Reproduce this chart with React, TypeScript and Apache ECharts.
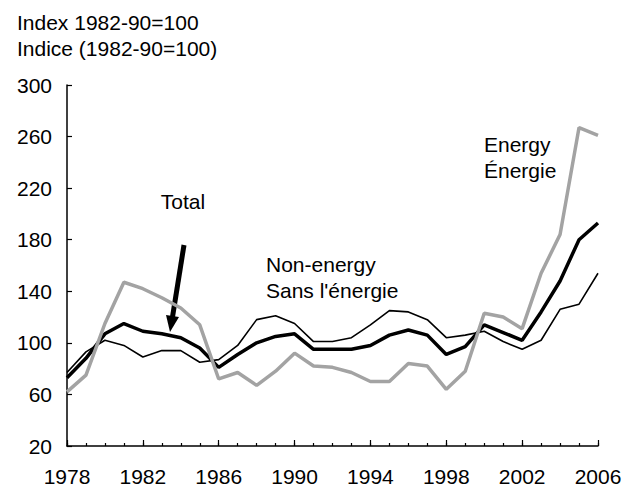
import React, { useEffect, useRef } from "react";
import * as echarts from "echarts";

const years = [
  "1978", "1979", "1980", "1981", "1982", "1983", "1984", "1985", "1986", "1987",
  "1988", "1989", "1990", "1991", "1992", "1993", "1994", "1995", "1996", "1997",
  "1998", "1999", "2000", "2001", "2002", "2003", "2004", "2005", "2006",
];
const energy = [62, 75, 115, 147, 142, 135, 127, 114, 72, 77, 67, 78, 92, 82, 81, 77, 70, 70, 84, 82, 64, 78, 123, 120, 111, 154, 184, 267, 261];
const total = [73, 88, 107, 115, 109, 107, 104, 96, 81, 91, 100, 105, 107, 95, 95, 95, 98, 106, 110, 106, 91, 97, 114, 108, 102, 124, 148, 180, 193];
const nonEnergy = [77, 93, 102, 98, 89, 94, 94, 85, 87, 98, 118, 121, 115, 101, 101, 104, 114, 125, 124, 118, 104, 106, 109, 101, 95, 102, 126, 130, 154];
const yTicks = [20, 60, 100, 140, 180, 220, 260, 300];

const FONT = "Liberation Sans, Arial, Helvetica, sans-serif";
const FS = 21;

export default function App() {
  const ref = useRef<HTMLDivElement>(null);
  useEffect(() => {
    if (!ref.current) return;
    const chart = echarts.init(ref.current, null, { renderer: "svg" });
    const txt = (text: string, x: number, y: number, align: string = "left") => ({
      type: "text",
      x,
      y,
      style: { text, fill: "#000", font: `${FS}px ${FONT}`, textAlign: align, textVerticalAlign: "middle" },
    });
    chart.setOption({
      animation: false,
      backgroundColor: "#fff",
      textStyle: { fontFamily: FONT },
      grid: { left: 67, right: 37, top: 85, bottom: 39, containLabel: false },
      xAxis: [
        {
          type: "category",
          data: years,
          boundaryGap: false,
          axisLine: { lineStyle: { color: "#000", width: 1.5 } },
          axisTick: { inside: true, length: 3, interval: 0, lineStyle: { color: "#000", width: 1.2 } },
          axisLabel: { interval: 3, color: "#000", fontSize: FS, fontFamily: FONT, margin: 20 },
          splitLine: { show: false },
        },
        {
          type: "category",
          data: years,
          boundaryGap: false,
          position: "bottom",
          axisLine: { show: false },
          axisTick: { inside: true, length: 6, interval: 3, lineStyle: { color: "#000", width: 1.2 } },
          axisLabel: { show: false },
          splitLine: { show: false },
        },
      ],
      yAxis: {
        type: "value",
        min: 20,
        max: 300,
        axisLine: { show: true, lineStyle: { color: "#000", width: 1.5 } },
        axisTick: { show: true, inside: true, length: 5, customValues: yTicks, lineStyle: { color: "#000", width: 1.2 } },
        axisLabel: { customValues: yTicks, color: "#000", fontSize: FS, fontFamily: FONT, margin: 15 },
        splitLine: { show: false },
      },
      series: [
        {
          name: "Non-energy",
          type: "line",
          data: nonEnergy,
          showSymbol: false,
          lineStyle: { color: "#000", width: 1.6 },
          z: 2,
        },
        {
          name: "Total",
          type: "line",
          data: total,
          showSymbol: false,
          lineStyle: { color: "#000", width: 3.5 },
          z: 3,
        },
        {
          name: "Energy",
          type: "line",
          data: energy,
          showSymbol: false,
          lineStyle: { color: "#a3a3a3", width: 3.5 },
          z: 4,
        },
      ],
      graphic: [
        txt("Index 1982-90=100", 17, 22),
        txt("Indice (1982-90=100)", 17, 48),
        txt("Total", 183, 201, "center"),
        txt("Non-energy", 266, 264),
        txt("Sans l'énergie", 266, 290),
        txt("Energy", 484, 144),
        txt("Énergie", 484, 170),
        {
          type: "line",
          shape: { x1: 184, y1: 245, x2: 172.5, y2: 317 },
          style: { stroke: "#000", lineWidth: 5 },
        },
        {
          type: "polygon",
          shape: { points: [[170, 332], [179, 317], [166, 315]] },
          style: { fill: "#000" },
        },
      ],
    });
    return () => chart.dispose();
  }, []);
  return <div ref={ref} style={{ width: 635, height: 487, position: "absolute", left: 0, top: 0 }} />;
}
